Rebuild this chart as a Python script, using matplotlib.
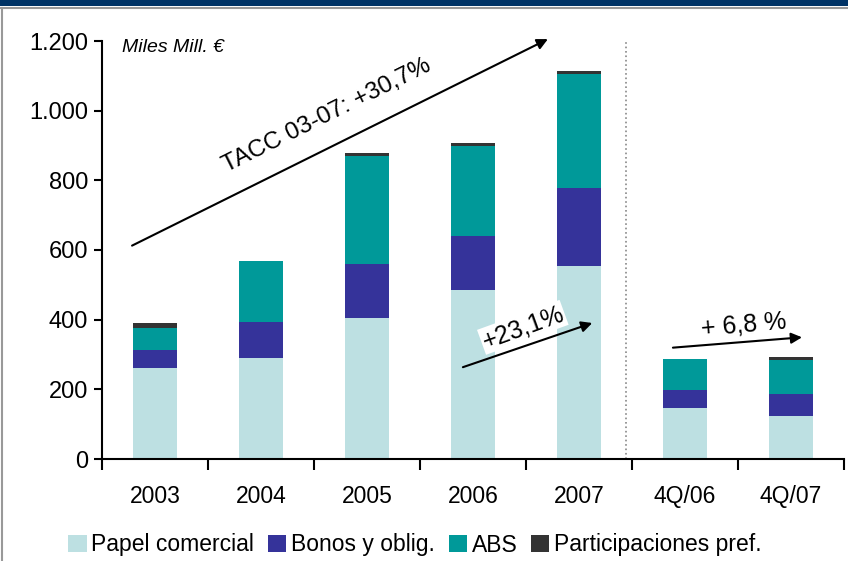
import matplotlib
matplotlib.use("Agg")

import matplotlib.pyplot as plt
import numpy as np
from matplotlib.patches import Rectangle

# --- Data (Miles Mill. €) ---
categories = ["2003", "2004", "2005", "2006", "2007", "4Q/06", "4Q/07"]
papel = [261, 290, 405, 485, 554, 146, 123]
bonos = [52, 103, 155, 155, 224, 52, 64]
abs_ = [63, 175, 310, 259, 327, 89, 97]
partic = [14, 0, 9, 8, 9, 0, 9]

series_names = ["Papel comercial", "Bonos y oblig.", "ABS", "Participaciones pref."]
colors = ["#BDE0E2", "#35339A", "#009999", "#333333"]

yticks = [0, 200, 400, 600, 800, 1000, 1200]
ytick_labels = ["0", "200", "400", "600", "800", "1.000", "1.200"]

plt.rcParams["font.family"] = ["Liberation Sans", "DejaVu Sans"]

fig = plt.figure(figsize=(8.48, 5.61), dpi=100)
ax = fig.add_axes([102 / 848, 102 / 561, 742 / 848, 418 / 561])

x = np.arange(len(categories))
bottom = np.zeros(len(categories))
for vals, name, col in zip([papel, bonos, abs_, partic], series_names, colors):
    ax.bar(x, vals, width=0.42, bottom=bottom, color=col, label=name, zorder=2)
    bottom += np.array(vals)

ax.set_xlim(-0.5, len(categories) - 0.5)
ax.set_ylim(0, 1200)
ax.set_yticks(yticks)
ax.set_yticklabels(ytick_labels, fontsize=17)
ax.set_xticks(x)
ax.set_xticklabels(categories, fontsize=16.5)
# category boundary ticks on the x axis
ax.set_xticks(np.arange(-0.5, len(categories)), minor=True)
ax.tick_params(axis="x", which="major", length=0, pad=19)
ax.tick_params(axis="x", which="minor", length=8, width=1.5, direction="out")
ax.tick_params(axis="y", length=6, width=1.5, direction="out", pad=4)
for s in ["top", "right"]:
    ax.spines[s].set_visible(False)
ax.spines["left"].set_linewidth(1.5)
ax.spines["bottom"].set_linewidth(1.5)

# separator between annual and quarterly figures
ax.axvline(4.443, color="#888888", linestyle=":", linewidth=1.2)

ax.text(-0.31, 1180, "Miles Mill. €", fontsize=14, style="italic", va="center", ha="left")

# growth arrows
arrow = dict(arrowstyle="-|>", color="black", lw=1.5, mutation_scale=16)
ax.annotate("", xy=(3.73, 1209), xytext=(-0.24, 609), arrowprops=arrow, annotation_clip=False)
ax.text(1.62, 985, "TACC 03-07: +30,7%", fontsize=17.5, rotation=26.5,
        ha="center", va="center", rotation_mode="anchor")

ax.annotate("", xy=(4.15, 393), xytext=(2.88, 261), arrowprops=arrow)
ax.text(3.47, 378, "+23,1%", fontsize=18, rotation=20, ha="center", va="center",
        rotation_mode="anchor",
        bbox=dict(boxstyle="square,pad=0.05", fc="white", ec="none"))

ax.annotate("", xy=(6.13, 350), xytext=(4.86, 319), arrowprops=arrow)
ax.text(5.55, 384, "+ 6,8 %", fontsize=18, rotation=5, ha="center", va="center",
        rotation_mode="anchor")

# legend
fig.legend(loc="center", bbox_to_anchor=(415 / 848, 1 - 545 / 561), ncol=4,
           frameon=False, fontsize=16.5, handlelength=0.8, handleheight=0.8,
           handletextpad=0.2, columnspacing=0.6, borderaxespad=0)

# frame: dark band on top and grey border
fig.patches.append(Rectangle((0, 1 - 6 / 561), 1, 6 / 561, transform=fig.transFigure,
                             facecolor="#003366", edgecolor="none"))
fig.lines.append(plt.Line2D([0, 1], [1 - 8 / 561, 1 - 8 / 561], transform=fig.transFigure,
                            color="#999999", lw=1.5))
fig.lines.append(plt.Line2D([2 / 848, 2 / 848], [0, 1 - 8 / 561], transform=fig.transFigure,
                            color="#999999", lw=1.5))

fig.savefig("out.png", dpi=100)
